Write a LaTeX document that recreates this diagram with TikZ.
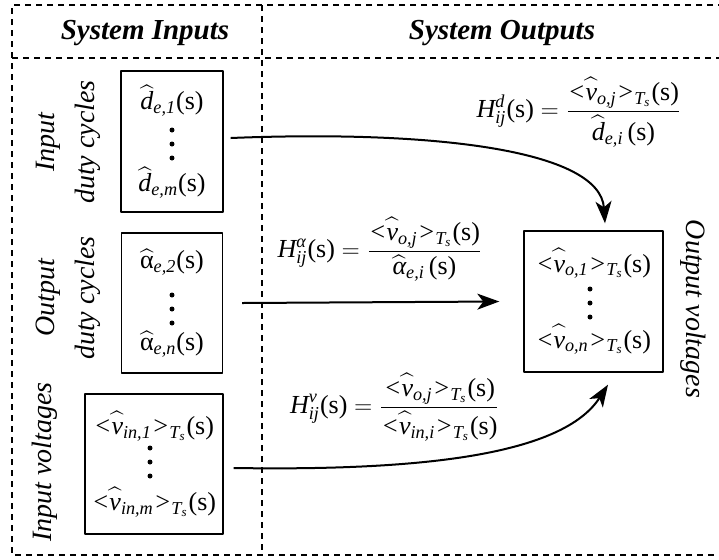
\documentclass[tikz,border=0pt]{standalone}
\usepackage{amsmath}
\usepackage{fontspec}
\setmainfont{Liberation Serif}
\usetikzlibrary{arrows.meta}
\newcommand{\mi}[1]{\text{\itshape #1}}
\newcommand{\avg}[1]{\mi{<}\widehat{\vphantom{d}\mi{v}}_{\mi{#1}}\mi{>}_{\mi{T}_{\mi{s}}}\text{(s)}}
\begin{document}
\begin{tikzpicture}[x=0.5pt,y=-0.5pt,line join=round,>={Stealth[length=11pt,width=8pt,inset=3pt]},font=\fontsize{13}{16}\selectfont,
	frame/.style={line width=0.8pt,dash pattern=on 3pt off 2.5pt},
	varbox/.style={draw,line width=0.7pt,align=center,inner sep=0pt},
	head/.style={font=\fontsize{14.5}{17}\selectfont\bfseries\itshape},
	side/.style={font=\fontsize{14}{20}\selectfont\itshape,align=center},
	flow/.style={->,line width=1pt}]
	\useasboundingbox (0,0) rectangle (719,559);
	\draw[frame] (724,5) -- (12,5) -- (12,555) -- (724,555);
	\draw[frame] (12,58) -- (724,58);
	\draw[frame] (262,5) -- (262,555);
	\node[head] (hin) at (145,33) {System Inputs};
	\node[head] (hout) at (502,33) {System Outputs};
	\node[varbox,minimum width=51pt,minimum height=70.5pt] (bd) at (172,141.5)
	{$\widehat{\mi{d}}_{\mi{e,1}}$(s)\\[25pt]$\widehat{\mi{d}}_{\mi{e,m}}$(s)};
	\node[varbox,minimum width=50.5pt,minimum height=70pt] (ba) at (172,303)
	{$\widehat{\text{α}}_{\mi{e,2}}$(s)\\[25pt]$\widehat{\text{α}}_{\mi{e,n}}$(s)};
	\node[varbox,minimum width=69pt,minimum height=70pt] (bv) at (154,464)
	{$\avg{in,1}$\\[22pt]$\avg{in,m}$};
	\node[varbox,minimum width=69.5pt,minimum height=70.5pt] (vo) at (593.5,301.5)
	{$\avg{o,1}$\\[22pt]$\avg{o,n}$};
	\foreach \b/\dx/\dy in {bd/0/-1.25,ba/0/-3,bv/-2/1,vo/-1.75/-0.75}
	\foreach \k in {-1,0,1}
	\fill ([xshift=\dx pt,yshift=\dy pt+\k*7pt]\b.center) circle (1.25pt);
	\node[side,rotate=90] (lin) at (68,142) {Input\\duty cycles};
	\node[side,rotate=90] (lout) at (68,298) {Output\\duty cycles};
	\node[side,rotate=90] (lvin) at (45,462) {Input voltages};
	\node[side,rotate=-90] (lvo) at (693,309) {Output voltages};
	\node (hd) at (579,112) {$\mi{H}^{\mi{d}}_{\mi{ij}}\text{(s)} = \dfrac{\avg{o,j}}{\widehat{\mi{d}}_{\mi{e,i}}\,\text{(s)}}$};
	\node (ha) at (380,249) {$\mi{H}^{\mi{α}}_{\mi{ij}}\text{(s)} = \dfrac{\avg{o,j}}{\widehat{\mi{α}}_{\mi{e,i}}\,\text{(s)}}$};
	\node (hv) at (395,407) {$\mi{H}^{\mi{v}}_{\mi{ij}}\text{(s)} = \dfrac{\avg{o,j}}{\avg{in,i}}$};
	\draw[flow] ([xshift=3.5pt,yshift=1.75pt]bd.east) .. controls +(200,-8) and +(-5,-74) .. ([xshift=5.75pt,yshift=3.5pt]vo.north);
	\draw[flow] ([xshift=9.5pt]ba.east) -- ([xshift=-12pt]vo.west);
	\draw[flow] ([xshift=5pt,yshift=-2pt]bv.east) .. controls +(190,3) and +(-45,70) .. ([xshift=7.25pt,yshift=-6pt]vo.south);
\end{tikzpicture}
\end{document}
